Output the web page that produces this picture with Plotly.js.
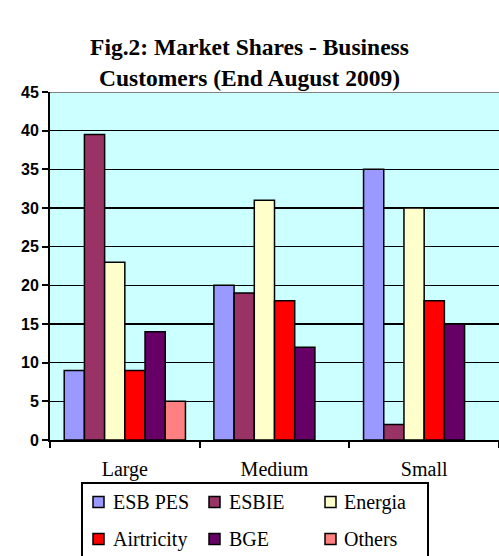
<!DOCTYPE html>
<html>
<head>
<meta charset="utf-8">
<script src="https://cdn.plot.ly/plotly-3.0.1.min.js"></script>
<style>html,body{margin:0;padding:0;background:#fff;}#chart{width:499px;height:556px;}</style>
</head>
<body>
<div id="chart"></div>
<script>
var categories = ['Large', 'Medium', 'Small'];
var seriesNames = ['ESB PES', 'ESBIE', 'Energia', 'Airtricity', 'BGE', 'Others'];
var esbPes = [9, 20, 35];
var esbie = [39.5, 19, 2];
var energia = [23, 31, 30];
var airtricity = [9, 18, 18];
var bge = [14, 12, 15];
var others = [5, 0, 0];
var seriesColors = ['#9999FF', '#993366', '#FFFFCC', '#FF0000', '#660066', '#FF8080'];
var yTicks = [0, 5, 10, 15, 20, 25, 30, 35, 40, 45];

var seriesValues = [esbPes, esbie, energia, airtricity, bge, others];
var SERIF = 'Liberation Serif';

var W = 499, H = 556, L = 50, R = 0, T = 92, B = 116;
var pw = W - L - R, ph = H - T - B;
function px2x(px) { return (px - L) / pw; }
function py2y(py) { return (H - B - py) / ph; }

var traces = seriesNames.map(function (n, i) {
  return {
    type: 'bar', name: n, x: categories, y: seriesValues[i],
    marker: { color: seriesColors[i],
      line: { color: '#000', width: seriesValues[i].map(function (v) { return v > 0 ? 1.5 : 0; }) } },
    showlegend: false, hoverinfo: 'x+y+name'
  };
});

var shapes = [];
var annotations = [];
shapes.push({ type: 'line', xref: 'paper', yref: 'y', x0: 0, x1: 1, y0: 45, y1: 45,
  line: { color: '#808080', width: 2 } });
shapes.push({ type: 'rect', xref: 'paper', yref: 'paper',
  x0: px2x(82), x1: px2x(428), y0: py2y(483), y1: py2y(570),
  line: { color: '#000', width: 2 }, fillcolor: 'rgba(0,0,0,0)' });
var colSw = [93, 209, 325], colTx = [111, 227, 342], rowY = [502, 539];
seriesNames.forEach(function (n, i) {
  var c = i % 3, r = Math.floor(i / 3);
  shapes.push({ type: 'rect', xref: 'paper', yref: 'paper',
    x0: px2x(colSw[c]), x1: px2x(colSw[c] + 11),
    y0: py2y(rowY[r] - 5.5), y1: py2y(rowY[r] + 5.5),
    fillcolor: seriesColors[i], line: { color: '#000', width: 1.5 } });
  annotations.push({ xref: 'paper', yref: 'paper', x: px2x(colTx[c]), y: py2y(rowY[r]),
    xanchor: 'left', yanchor: 'middle', showarrow: false, text: n,
    font: { family: SERIF, size: 20, color: '#000' } });
});

var layout = {
  width: W, height: H,
  margin: { l: L, r: R, t: T, b: B, pad: 0 },
  paper_bgcolor: '#fff', plot_bgcolor: '#CCFFFF',
  title: {
    text: '<b>Fig.2: Market Shares - Business<br>Customers (End August 2009)</b>',
    font: { family: SERIF, size: 23.5, color: '#000' },
    x: 0.5, xref: 'container', xanchor: 'center',
    y: 1 - 55 / H, yref: 'container', yanchor: 'top'
  },
  barmode: 'group', bargap: 0.19, bargroupgap: 0,
  xaxis: {
    type: 'category', range: [-0.5, 2.5], fixedrange: true,
    showline: true, linecolor: '#000', linewidth: 2,
    ticks: 'outside', tickson: 'boundaries', ticklen: 6, tickwidth: 2, tickcolor: '#000',
    ticklabelstandoff: 10,
    tickfont: { family: SERIF, size: 20, color: '#000' },
    showgrid: false
  },
  yaxis: {
    range: [0, 45], tickvals: yTicks, ticktext: yTicks.map(String), fixedrange: true,
    showline: true, linecolor: '#000', linewidth: 2,
    ticks: 'outside', ticklen: 6, tickwidth: 2, tickcolor: '#000',
    gridcolor: '#000', gridwidth: 1.5, zeroline: false,
    tickfont: { family: 'Liberation Sans', size: 16, color: '#000', weight: 'bold' }
  },
  shapes: shapes,
  annotations: annotations,
  showlegend: false
};

Plotly.newPlot('chart', traces, layout, { displayModeBar: false, staticPlot: true });
</script>
</body>
</html>
